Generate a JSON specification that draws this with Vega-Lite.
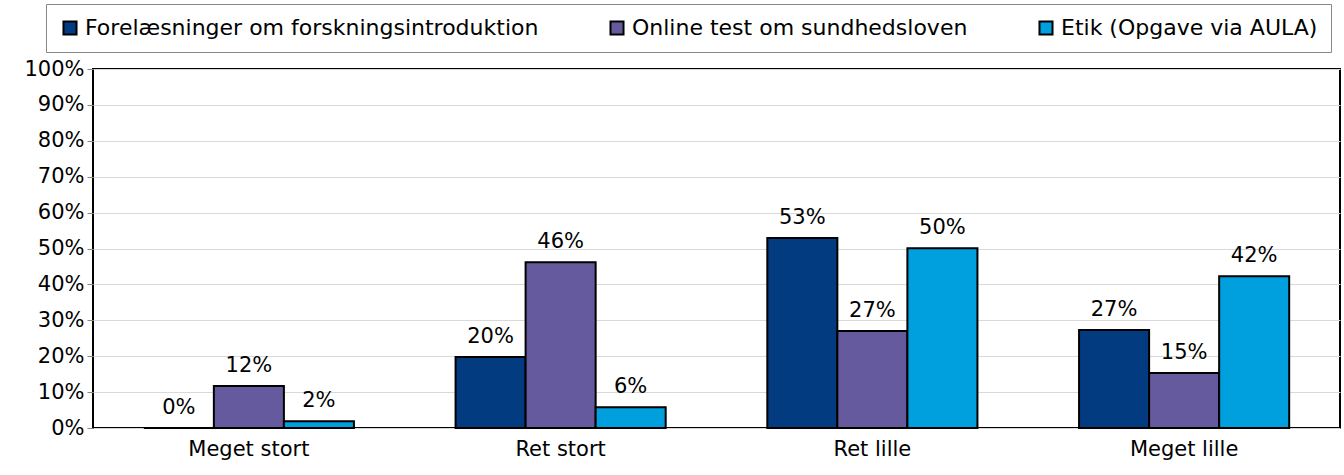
{
  "$schema": "https://vega.github.io/schema/vega-lite/v6.json",
  "autosize": "none",
  "padding": {"left": 93, "top": 69, "right": 4, "bottom": 47},
  "width": 1247,
  "height": 359,
  "background": "white",
  "config": {
    "font": "DejaVu Sans",
    "view": {"stroke": "black", "strokeWidth": 2},
    "axis": {"labelFont": "DejaVu Sans", "labelColor": "black"}
  },
  "data": {
    "values": [
      {"kategori": "Meget stort", "serie": "Forelæsninger om forskningsintroduktion", "andel": 0.0},
      {"kategori": "Meget stort", "serie": "Online test om sundhedsloven", "andel": 0.117},
      {"kategori": "Meget stort", "serie": "Etik (Opgave via AULA)", "andel": 0.019},
      {"kategori": "Ret stort", "serie": "Forelæsninger om forskningsintroduktion", "andel": 0.198},
      {"kategori": "Ret stort", "serie": "Online test om sundhedsloven", "andel": 0.462},
      {"kategori": "Ret stort", "serie": "Etik (Opgave via AULA)", "andel": 0.058},
      {"kategori": "Ret lille", "serie": "Forelæsninger om forskningsintroduktion", "andel": 0.529},
      {"kategori": "Ret lille", "serie": "Online test om sundhedsloven", "andel": 0.27},
      {"kategori": "Ret lille", "serie": "Etik (Opgave via AULA)", "andel": 0.501},
      {"kategori": "Meget lille", "serie": "Forelæsninger om forskningsintroduktion", "andel": 0.273},
      {"kategori": "Meget lille", "serie": "Online test om sundhedsloven", "andel": 0.153},
      {"kategori": "Meget lille", "serie": "Etik (Opgave via AULA)", "andel": 0.423}
    ]
  },
  "encoding": {
    "x": {
      "field": "kategori", "type": "nominal", "sort": null,
      "scale": {"paddingInner": 0.326, "paddingOuter": 0.163},
      "axis": {"title": null, "labelAngle": 0, "ticks": false, "domain": false, "labelFontSize": 21, "labelPadding": 10}
    },
    "xOffset": {
      "field": "serie", "type": "nominal", "sort": ["Forelæsninger om forskningsintroduktion", "Online test om sundhedsloven", "Etik (Opgave via AULA)"],
      "scale": {"paddingInner": 0, "paddingOuter": 0}
    },
    "y": {
      "field": "andel", "type": "quantitative",
      "scale": {"domain": [0, 1], "nice": false},
      "axis": {"title": null, "format": ".0%", "values": [0,0.1,0.2,0.3,0.4,0.5,0.6,0.7,0.8,0.9,1], "labelOverlap": false, "labelFontSize": 21, "tickSize": 6, "tickColor": "#888", "domain": false, "grid": true, "gridColor": "#d9d9d9", "gridWidth": 1, "labelPadding": 3}
    }
  },
  "layer": [
    {
      "mark": {"type": "bar", "stroke": "black", "strokeWidth": 2},
      "encoding": {
        "color": {
          "field": "serie", "type": "nominal",
          "sort": ["Forelæsninger om forskningsintroduktion", "Online test om sundhedsloven", "Etik (Opgave via AULA)"],
          "scale": {"domain": ["Forelæsninger om forskningsintroduktion", "Online test om sundhedsloven", "Etik (Opgave via AULA)"], "range": ["#023B80", "#665A9E", "#00A0DF"]},
          "legend": {
            "title": null, "orient": "none", "direction": "horizontal",
            "legendX": -47, "legendY": -65,
            "symbolType": "square", "symbolSize": 170, "symbolStrokeColor": "black", "symbolStrokeWidth": 2,
            "labelFontSize": 22, "labelColor": "black", "labelLimit": 700, "labelOffset": 4,
            "columnPadding": 67, "padding": 13,
            "strokeColor": "#888", "fillColor": "white"
          }
        }
      }
    },
    {
      "mark": {"type": "text", "baseline": "alphabetic", "dy": -14, "fontSize": 21, "color": "black"},
      "encoding": {
        "text": {"field": "andel", "type": "quantitative", "format": ".0%"}
      }
    }
  ]
}
